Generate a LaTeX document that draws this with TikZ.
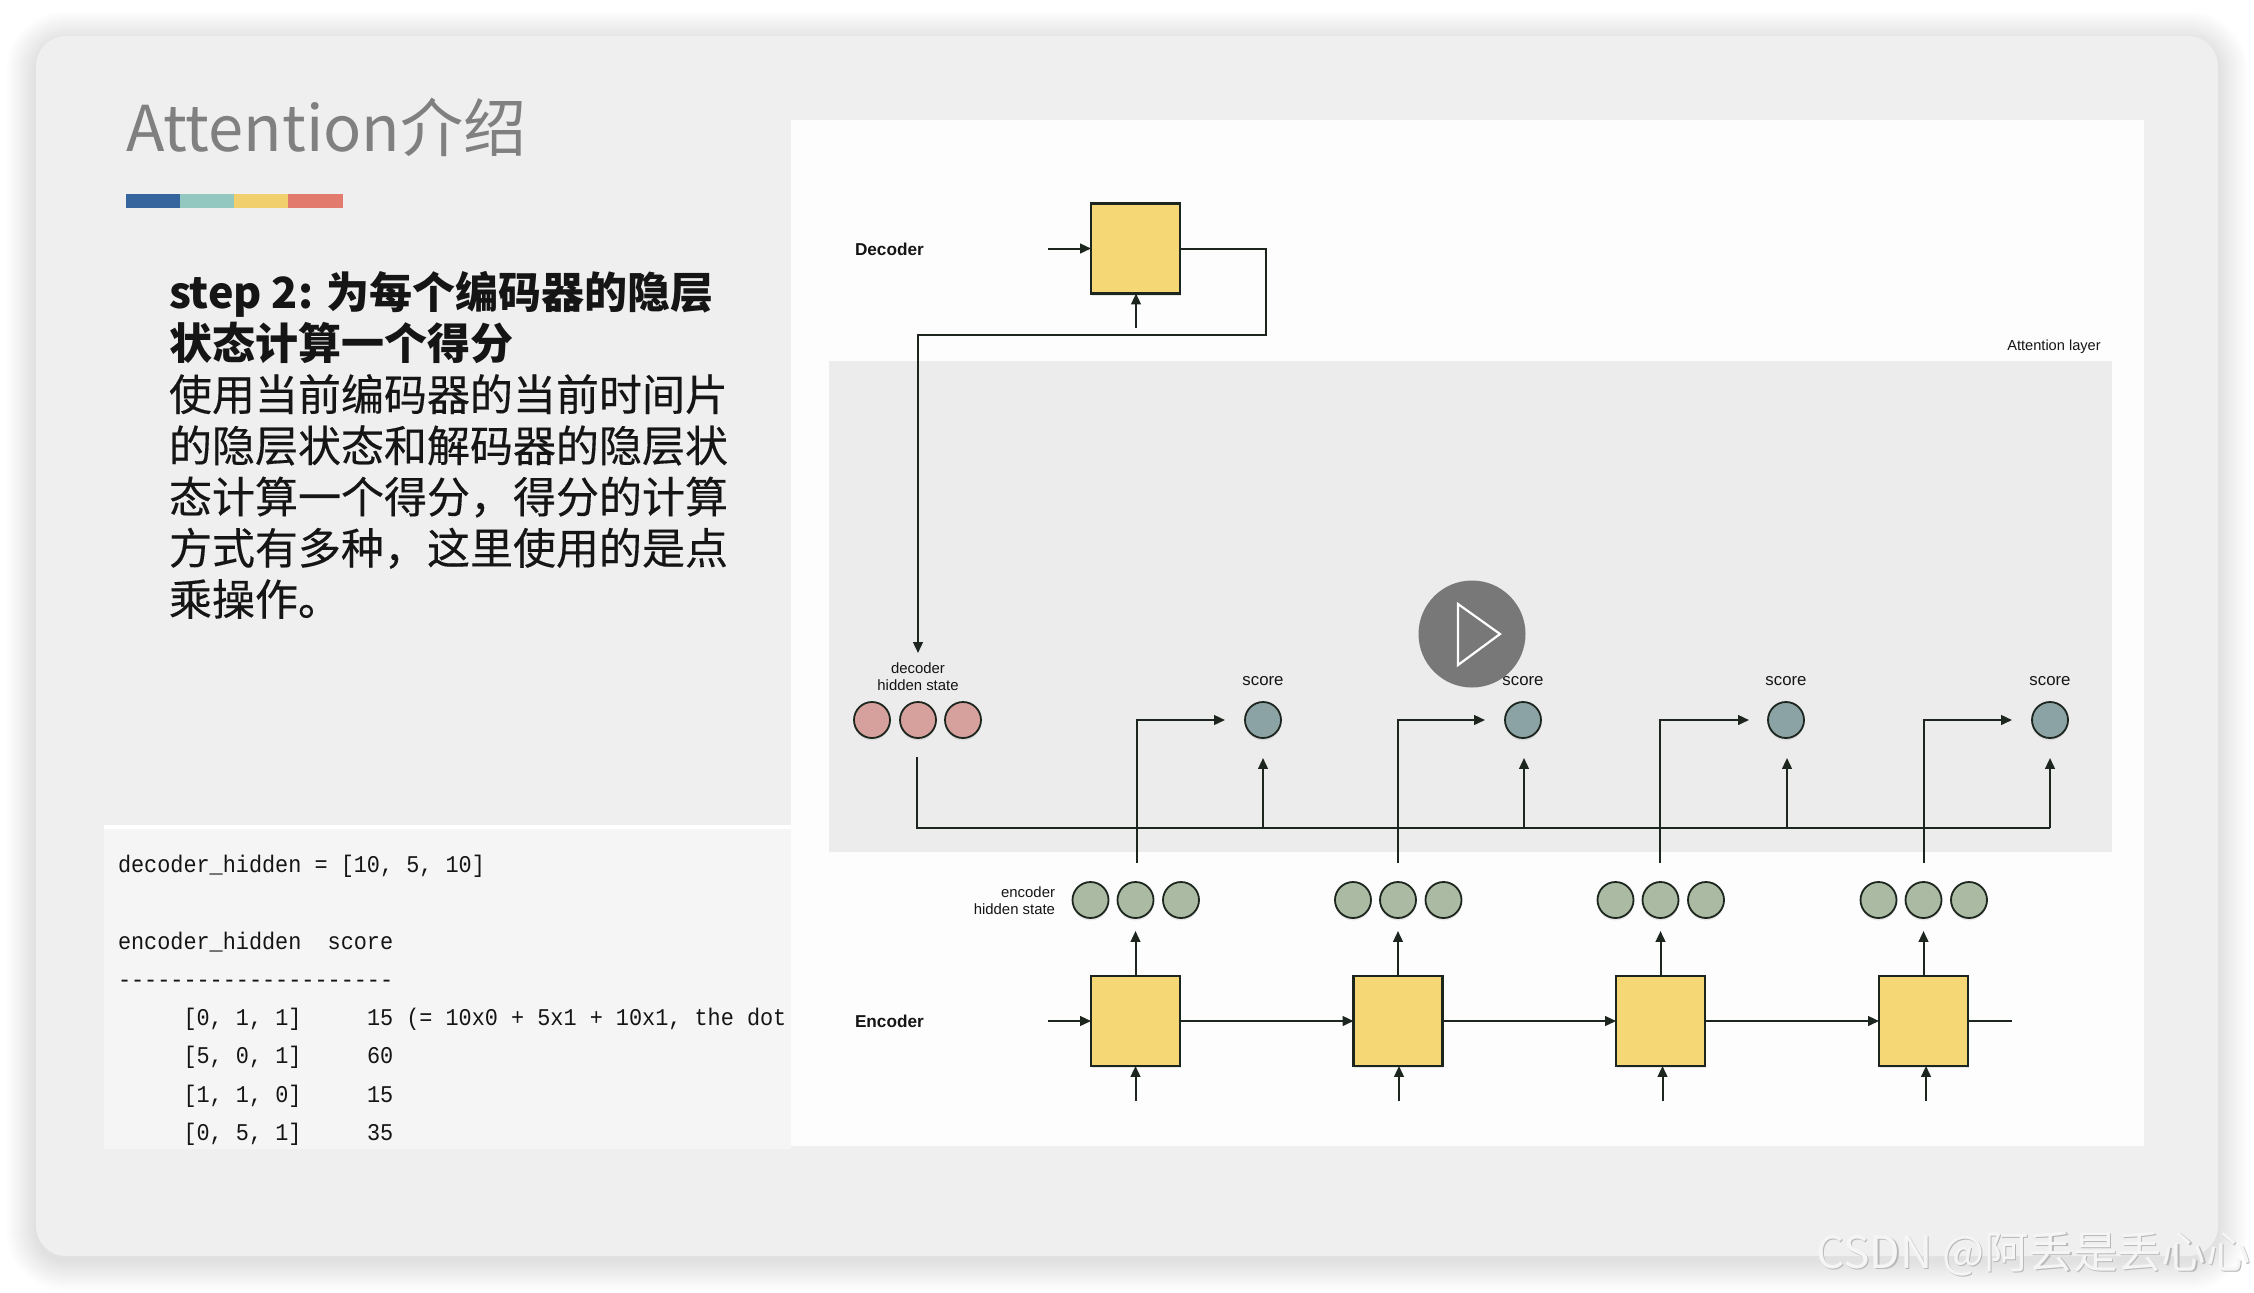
\documentclass[tikz,border=0pt]{standalone}
\usepackage{fontspec}
\usetikzlibrary{arrows.meta,shadows}
\newfontfamily\cjkf{Noto Sans CJK SC}
\newfontfamily\cjkbody[FakeBold=0.3]{Noto Sans CJK SC}
\newfontfamily\arialf{Liberation Sans}
\newfontfamily\codef[FakeStretch=0.91]{Liberation Mono}
\definecolor{cardbg}{HTML}{EFEFEF}
\definecolor{panelbg}{HTML}{FDFDFD}
\definecolor{layerbg}{HTML}{ECECEC}
\definecolor{codebg}{HTML}{F5F5F5}
\definecolor{boxfill}{HTML}{F6D775}
\definecolor{pinkc}{HTML}{D6A09C}
\definecolor{greenc}{HTML}{ABBAA2}
\definecolor{bluec}{HTML}{8BA3A5}
\definecolor{linec}{HTML}{1C261E}
\definecolor{titlec}{HTML}{808080}
\definecolor{bodyc}{HTML}{151515}
\definecolor{barA}{HTML}{35659C}
\definecolor{barB}{HTML}{93C8C0}
\definecolor{barC}{HTML}{F0CF6C}
\definecolor{barD}{HTML}{E37A6E}
\tikzset{
  x=0.5pt,y=-0.5pt,
  every node/.style={inner sep=0pt,outer sep=0pt},
  cellbox/.style={draw=linec,line width=1.2pt,fill=boxfill,minimum width=44.5pt,minimum height=45pt,
    drop shadow={shadow xshift=0.4pt,shadow yshift=-1pt,opacity=.18}},
  dot/.style={circle,draw=linec,line width=.9pt,minimum size=18pt,
    drop shadow={shadow xshift=0pt,shadow yshift=-1.2pt,opacity=.18}},
  pinkdot/.style={dot,fill=pinkc},
  greendot/.style={dot,fill=greenc},
  bluedot/.style={dot,fill=bluec},
  wire/.style={draw=linec,line width=1pt},
  arr/.style={wire,-{Triangle[length=5.4pt,width=4.8pt]}},
  lab/.style={font=\arialf\fontsize{7.45}{8.5}\selectfont,text=bodyc,align=center},
  scorelab/.style={font=\arialf\fontsize{8.4}{10}\selectfont,text=bodyc},
  headlab/.style={font=\arialf\bfseries\fontsize{8.6}{10}\selectfont,text=bodyc,anchor=west},
  csdn/.style={font=\cjkf\fontsize{22.2}{24}\selectfont,anchor=base west},
}
\begin{document}
\begin{tikzpicture}
\useasboundingbox (0,0) rectangle (2254,1292);
\fill[white] (0,0) rectangle (2254,1292);
% card shadow
\foreach \i [evaluate=\i as \r using {15+\i*0.5}] in {1,...,30}{
  \fill[black,opacity=.0058,rounded corners=\r pt] (36-\i,36-\i+5) rectangle (2218+\i,1256+\i+5);
}
% card
\fill[cardbg,rounded corners=15pt] (36,36) rectangle (2218,1256);
% title and colour bar
\node[font=\cjkf\fontsize{31.6}{36}\selectfont,text=titlec,anchor=base west] (title) at (126,151) {Attention介绍};
\fill[barA] (126,194) rectangle (180,208);
\fill[barB] (180,194) rectangle (234,208);
\fill[barC] (234,194) rectangle (288,208);
\fill[barD] (288,194) rectangle (343,208);
% body text
\node[font=\cjkbody\fontsize{21.5}{25.6}\selectfont,text=bodyc,align=left,anchor=north west] (body) at (169,271)
{{\cjkf\bfseries step 2: 为每个编码器的隐层}\\
 {\cjkf\bfseries 状态计算一个得分}\\
 使用当前编码器的当前时间片\\
 的隐层状态和解码器的隐层状\\
 态计算一个得分，得分的计算\\
 方式有多种，这里使用的是点\\
 乘操作。};
% code panel
\fill[white] (104,825) rectangle (791,829);
\fill[codebg] (104,829) rectangle (791,1149);
\node[font=\codef\fontsize{12}{19.15}\selectfont,text=bodyc,align=left,anchor=north west] (code) at (118,855)
{decoder\_hidden = [10, 5, 10]\\
 ~\\
 encoder\_hidden~~score\\
 ---------------------\\
 ~~~~~[0, 1, 1]~~~~~15 (= 10x0 + 5x1 + 10x1, the dot\\
 ~~~~~[5, 0, 1]~~~~~60\\
 ~~~~~[1, 1, 0]~~~~~15\\
 ~~~~~[0, 5, 1]~~~~~35};
% diagram panel
\fill[panelbg] (791,120) rectangle (2144,1146);
\fill[layerbg] (829,361) rectangle (2112,852);
\node[font=\arialf\fontsize{7.3}{9}\selectfont,text=bodyc] (attlab) at (2054,346.5) {Attention layer};
% decoder
\node[headlab] (declab) at (855,249) {Decoder};
\node[cellbox] (dec) at (1135.5,248.5) {};
\coordinate (decin) at (1048,248.5);
\coordinate (decup) at (1136,328);
\coordinate (fbA) at (1266,335);
\coordinate (fbB) at (918,335);
\coordinate (fbC) at (918,653);
\draw[arr] (decin) -- (dec.west);
\draw[arr] (decup) -- (dec.south -| decup);
\draw[arr] (dec.east) -| (fbA) -- (fbB) -- (fbC);
% decoder hidden state
\node[lab] (dhlab) at (918,677) {decoder\\hidden state};
\node[pinkdot] (d1) at (872,720) {};
\node[pinkdot] (d2) at (918,720) {};
\node[pinkdot] (d3) at (963,720) {};
% score bus
\coordinate (busS) at (916.5,757);
\coordinate (busB) at (916.5,828);
\coordinate (busE) at (2050,828);
\draw[wire] (busS) -- (busB) -- (busE);
% scores
\foreach \n/\x/\ax in {1/1263/1263,2/1523/1524,3/1786/1787,4/2050/2050}{
  \node[scorelab] (slab\n) at (\x,681) {score};
  \node[bluedot] (s\n) at (\x,720) {};
  \coordinate (sbot\n) at (\ax,828);
  \coordinate (stip\n) at (\ax,758);
  \draw[arr] (sbot\n) -- (stip\n);
}
% encoder
\node[headlab] (enclab) at (855,1021) {Encoder};
\node[lab,align=right,anchor=east] (ehlab) at (1055,901) {encoder\\hidden state};
\foreach \n/\x/\px/\tx/\bx in {1/1135.5/1137/1225/1135.5,2/1398/1398/1485/1399,3/1660.5/1660/1749/1662.5,4/1923.5/1923.5/2012/1926}{
  \node[cellbox] (e\n) at (\x,1021) {};
  \node[greendot] (h\n a) at (\x-45,900) {};
  \node[greendot] (h\n b) at (\x,900) {};
  \node[greendot] (h\n c) at (\x+45.5,900) {};
  \coordinate (etop\n) at (\x,931);
  \coordinate (ebot\n) at (\bx,1101);
  \coordinate (pS\n) at (\px,863);
  \coordinate (pC\n) at (\px,720);
  \coordinate (pT\n) at (\tx,720);
  \draw[arr] (e\n.north) -- (etop\n);
  \draw[arr] (ebot\n) -- (e\n.south -| ebot\n);
  \draw[arr] (pS\n) -- (pC\n) -- (pT\n);
}
\coordinate (encin) at (1048,1021);
\coordinate (encout) at (2012,1021);
\draw[arr] (encin) -- (e1.west);
\draw[arr] (e1.east) -- (e2.west);
\draw[arr] (e2.east) -- (e3.west);
\draw[arr] (e3.east) -- (e4.west);
\draw[wire] (e4.east) -- (encout);
% play button
\fill[fill=black!53] (1472,634) circle[radius=53.5];
\draw[white,line width=1.1pt] (1458,604) -- (1500,634) -- (1458,665) -- cycle;
% site mark
\node[csdn,text=black!28] (csdnb) at (1817.5,1269.5) {CSDN @阿丢是丢心心};
\node[csdn,text=white!96!black] (csdnt) at (1816,1268) {CSDN @阿丢是丢心心};
\end{tikzpicture}
\end{document}
